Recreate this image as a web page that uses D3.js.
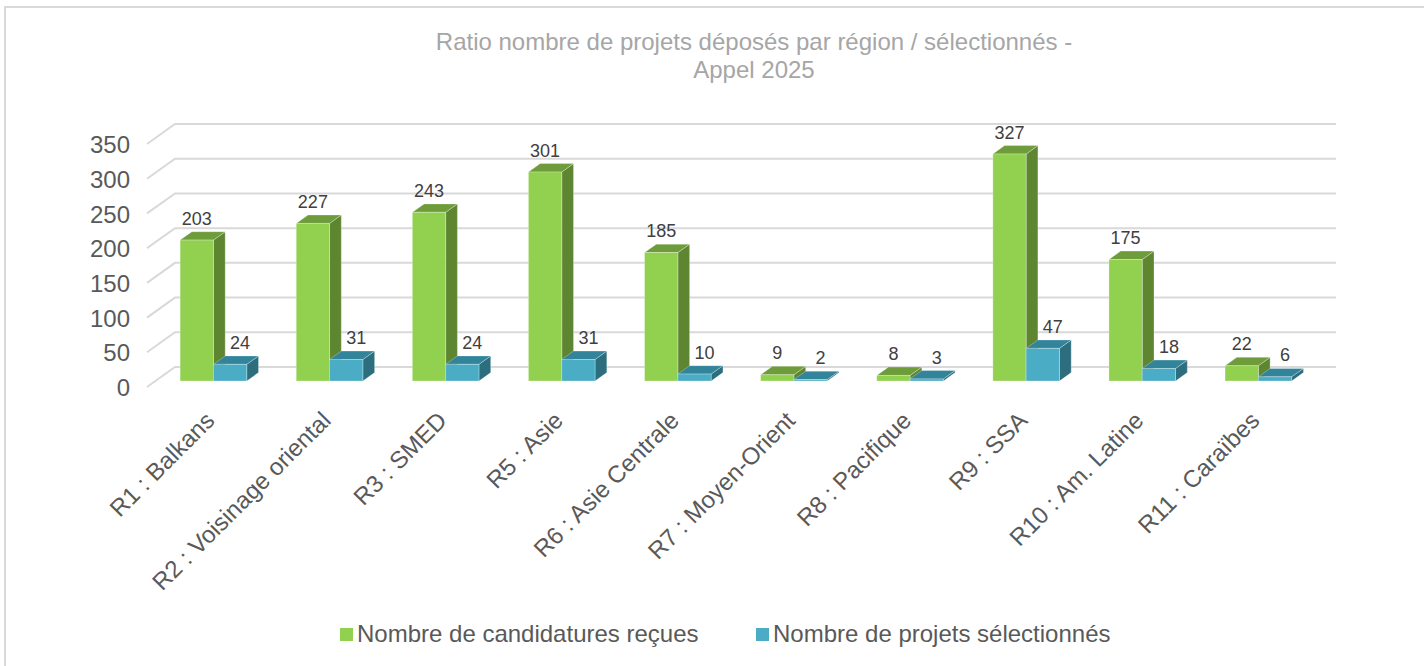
<!DOCTYPE html>
<html lang="fr">
<head>
<meta charset="UTF-8">
<script src="https://d3js.org/d3.v7.min.js"></script>
<title>Ratio projets</title>
<style>
  body { margin: 0; background: #fff; }
  svg text { font-family: "Liberation Sans", Arial, sans-serif; }
</style>
</head>
<body>
<div id="chart"></div>
<script>
// data
var categories = ["R1 : Balkans", "R2 : Voisinage oriental", "R3 : SMED", "R5 : Asie",
  "R6 : Asie Centrale", "R7 : Moyen-Orient", "R8 : Pacifique", "R9 : SSA",
  "R10 : Am. Latine", "R11 : Caraïbes"];
var candidatures = [203, 227, 243, 301, 185, 9, 8, 327, 175, 22];
var selectionnes = [24, 31, 24, 31, 10, 2, 3, 47, 18, 6];
var seriesNames = ["Nombre de candidatures reçues", "Nombre de projets sélectionnés"];
var yTicks = [0, 50, 100, 150, 200, 250, 300, 350];

var width = 1424, height = 666;

// colours: front, top, side
var colors = [
  { front: "#92D050", top: "#6E9C3A", side: "#5E8631" },
  { front: "#4BACC6", top: "#32849A", side: "#2C6D7E" }
];

// 3d look: the back wall is shifted up-right from the front plane
var depth = { x: 28, y: -20 };
var barStart = 0.3, barDepth = 0.42;

var svg = d3.select("#chart").append("svg")
  .attr("width", width)
  .attr("height", height);

// outer frame
svg.append("rect")
  .attr("x", 5).attr("y", 7)
  .attr("width", 1440).attr("height", 700)
  .attr("fill", "none")
  .attr("stroke", "#D9D9D9")
  .attr("stroke-width", 2);

var x = d3.scaleBand().domain(categories).range([147, 1308]).paddingInner(0).paddingOuter(0);
var xSub = d3.scaleBand().domain([0, 1]).range([0, x.bandwidth()]).paddingInner(0).paddingOuter(0.743);
var y = d3.scaleLinear().domain([0, 350]).range([387, 144]);

// gridlines: side wall diagonal + back wall
var grid = svg.append("g").attr("fill", "none").attr("stroke", "#D9D9D9").attr("stroke-width", 2);
yTicks.forEach(function(t) {
  var yf = y(t);
  grid.append("polyline")
    .attr("points", [
      [x.range()[0], yf],
      [x.range()[0] + depth.x, yf + depth.y],
      [x.range()[1] + depth.x, yf + depth.y]
    ].map(function(p) { return p.join(","); }).join(" "));
});

// y axis labels
var yAxis = d3.axisLeft(y).tickValues(yTicks).tickSize(0).tickPadding(0);
var ya = svg.append("g").attr("transform", "translate(130,1)").call(yAxis);
ya.select(".domain").remove();
ya.selectAll("text")
  .attr("font-size", 24)
  .attr("fill", "#595959")
  .style("font-family", "'Liberation Sans', Arial, sans-serif");

// bars
var ox = barStart * depth.x, oy = barStart * depth.y;
var dx = barDepth * depth.x, dy = barDepth * depth.y;
var values = [candidatures, selectionnes];

var bars = svg.append("g");
var labels = svg.append("g")
  .attr("font-size", 18)
  .attr("fill", "#404040")
  .attr("text-anchor", "middle");

categories.forEach(function(c, i) {
  [0, 1].forEach(function(s) {
    var v = values[s][i];
    var xl = x(c) + xSub(s) + ox;
    var xr = xl + xSub.bandwidth();
    var yt = y(v) + oy;
    var yb = y(0) + oy;
    var col = colors[s];
    var g = bars.append("g").attr("stroke", "rgba(255,255,255,0.35)").attr("stroke-width", 0.8)
      .attr("stroke-linejoin", "round");
    g.append("polygon")
      .attr("points", [[xr, yt], [xr + dx, yt + dy], [xr + dx, yb + dy], [xr, yb]].join(" "))
      .attr("fill", col.side);
    g.append("polygon")
      .attr("points", [[xl, yt], [xr, yt], [xr + dx, yt + dy], [xl + dx, yt + dy]].join(" "))
      .attr("fill", col.top);
    g.append("rect")
      .attr("x", xl).attr("y", yt)
      .attr("width", xr - xl).attr("height", yb - yt)
      .attr("fill", col.front);

    labels.append("text")
      .attr("x", (xl + xr) / 2 + (s === 1 ? 10 : 0))
      .attr("y", yt + dy - 7)
      .text(v);
  });
});

// category labels, rotated
svg.append("g")
  .selectAll("text")
  .data(categories)
  .join("text")
    .attr("transform", function(d) {
      return "translate(" + (x(d) + x.bandwidth() / 2 + 11) + ",422) rotate(-45)";
    })
    .attr("text-anchor", "end")
    .attr("font-size", 24)
    .attr("fill", "#595959")
    .text(function(d) { return d; });

// title
var title = svg.append("text")
  .attr("x", 754)
  .attr("text-anchor", "middle")
  .attr("font-size", 24)
  .attr("fill", "#A6A6A6");
title.append("tspan").attr("x", 754).attr("y", 50).text("Ratio nombre de projets déposés par région / sélectionnés -");
title.append("tspan").attr("x", 754).attr("y", 78).text("Appel 2025");

// legend
var legendX = [340, 756];
var legend = svg.append("g")
  .selectAll("g")
  .data(seriesNames)
  .join("g")
    .attr("transform", function(d, i) { return "translate(" + legendX[i] + ",628)"; });
legend.append("rect")
  .attr("width", 13).attr("height", 13)
  .attr("fill", function(d, i) { return colors[i].front; });
legend.append("text")
  .attr("x", 17).attr("y", 14)
  .attr("font-size", 24)
  .attr("fill", "#595959")
  .text(function(d) { return d; });
</script>
</body>
</html>
